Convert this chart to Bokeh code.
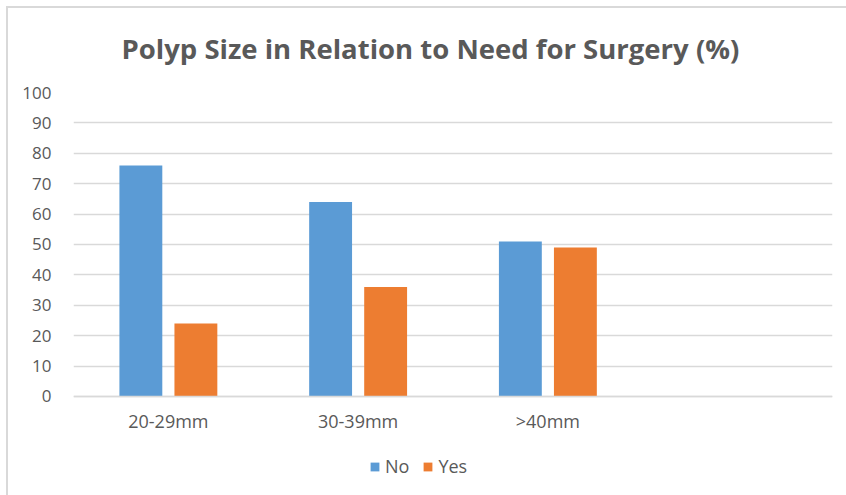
from bokeh.plotting import figure
from bokeh.models import ColumnDataSource, FactorRange, Legend, LegendItem, FixedTicker
from bokeh.transform import dodge
from bokeh.embed import file_html
from bokeh.resources import INLINE

categories = ["20-29mm", "30-39mm", ">40mm"]
extra_slot = [" "]
no_values = [76, 64, 51]
yes_values = [24, 36, 49]
y_ticks = [0, 10, 20, 30, 40, 50, 60, 70, 80, 90, 100]

FONT = "Open Sans"
TXT = "#595959"
GRID = "#D9D9D9"

src = ColumnDataSource(data=dict(cat=categories, no=no_values, yes=yes_values))

p = figure(
    x_range=FactorRange(factors=categories + extra_slot, range_padding=0),
    y_range=(-32.6, 100),
    width=846, height=495,
    output_backend="svg", toolbar_location=None,
    min_border_left=73, min_border_right=14, min_border_top=92, min_border_bottom=0,
)
p.border_fill_color = None
p.background_fill_color = "white"
p.styles = {
    "background-color": "white",
    "background-image": "linear-gradient(#d9d9d9, #d9d9d9), linear-gradient(#d9d9d9, #d9d9d9)",
    "background-position": "6px 6px, 6px 6px",
    "background-size": "2px 100%, 100% 2px",
    "background-repeat": "no-repeat, no-repeat",
}

p.title.text = "Polyp Size in Relation to Need for Surgery (%)"
p.title.text_font = FONT
p.title.text_font_size = "27.5px"
p.title.text_font_style = "bold"
p.title.text_color = TXT
p.title.align = "left"
p.title.offset = 48
p.title.standoff = 52

r_no = p.vbar(x=dodge("cat", -0.145, range=p.x_range), top="no", width=0.226,
              source=src, fill_color="#5B9BD5", line_color=None)
r_yes = p.vbar(x=dodge("cat", 0.145, range=p.x_range), top="yes", width=0.226,
               source=src, fill_color="#ED7D31", line_color=None)

p.outline_line_color = None
p.xgrid.grid_line_color = None
p.ygrid.grid_line_color = GRID
p.ygrid.grid_line_width = 1.3
p.yaxis.ticker = FixedTicker(ticks=y_ticks)

for ax in (p.xaxis[0], p.yaxis[0]):
    ax.major_tick_line_color = None
    ax.minor_tick_line_color = None
    ax.major_label_text_font = FONT
    ax.major_label_text_color = TXT
p.yaxis.major_label_text_font_size = "17px"
p.xaxis.major_label_text_font_size = "18px"
p.yaxis.axis_line_color = None
p.yaxis.major_label_standoff = 16
p.xaxis.fixed_location = 0
p.xaxis.axis_line_color = GRID
p.xaxis.axis_line_width = 1.3
p.xaxis.major_label_standoff = 7

legend = Legend(
    items=[LegendItem(label="No", renderers=[r_no]), LegendItem(label="Yes", renderers=[r_yes])],
    orientation="horizontal", location=(296, 17),
    border_line_color=None, background_fill_alpha=0,
    glyph_width=11, glyph_height=11, padding=0, margin=0, spacing=13, label_standoff=5,
    label_text_font=FONT, label_text_font_size="18px", label_text_color=TXT,
)
p.add_layout(legend, "center")

open("out.html", "w").write(file_html(p, INLINE))
